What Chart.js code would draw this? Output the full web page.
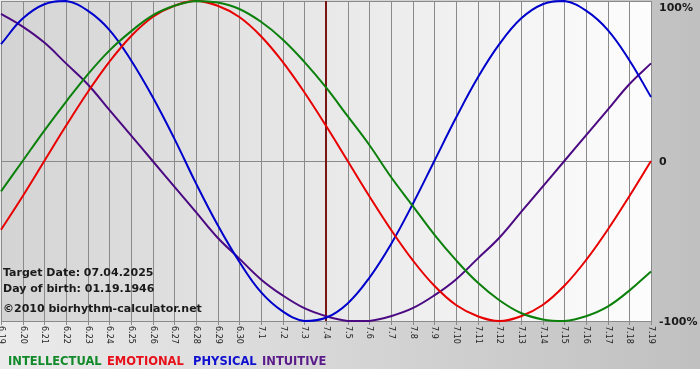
<!DOCTYPE html>
<html><head><meta charset="utf-8">
<script src="https://cdn.jsdelivr.net/npm/chart.js@4.4.1/dist/chart.umd.min.js"></script>
<style>html,body{margin:0;padding:0;background:#fff}canvas{display:block}</style>
</head><body>
<canvas id="c" width="700" height="380"></canvas>
<script>
const days = ['6.19','6.20','6.21','6.22','6.23','6.24','6.25','6.26','6.27','6.28','6.29','6.30',
  '7.1','7.2','7.3','7.4','7.5','7.6','7.7','7.8','7.9','7.10','7.11','7.12','7.13','7.14','7.15','7.16','7.17','7.18','7.19'];
const intellectual = [-0.19,0,0.19,0.37,0.54,0.69,0.81,0.91,0.97,1.00,0.99,0.95,0.87,0.76,0.62,0.46,0.28,0.10,-0.10,-0.28,-0.46,-0.62,-0.76,-0.87,-0.95,-0.99,-1.00,-0.97,-0.91,-0.81,-0.69];
const emotional = [-0.43,-0.22,0,0.22,0.43,0.62,0.78,0.90,0.97,1.00,0.97,0.90,0.78,0.62,0.43,0.22,0,-0.22,-0.43,-0.62,-0.78,-0.90,-0.97,-1.00,-0.97,-0.90,-0.78,-0.62,-0.43,-0.22,0];
const physical = [0.73,0.89,0.98,1.00,0.94,0.82,0.63,0.40,0.14,-0.14,-0.40,-0.63,-0.82,-0.94,-1.00,-0.98,-0.89,-0.73,-0.52,-0.27,0,0.27,0.52,0.73,0.89,0.98,1.00,0.94,0.82,0.63,0.40];
const intuitive = [0.92,0.84,0.74,0.61,0.48,0.32,0.16,0,-0.16,-0.32,-0.48,-0.61,-0.74,-0.84,-0.92,-0.97,-1.00,-1.00,-0.97,-0.92,-0.84,-0.74,-0.61,-0.48,-0.32,-0.16,0,0.16,0.32,0.48,0.61];
const yTickValues = [1, 0, -1];
const yTickLabels = ['100%', '0', '-100%'];
const targetDay = '7.4';
const infoLines = ['Target Date: 07.04.2025', 'Day of birth: 01.19.1946', '\u00A92010 biorhythm-calculator.net'];
const seriesNames = ['INTELLECTUAL', 'EMOTIONAL', 'PHYSICAL', 'INTUITIVE'];
const seriesColors = ['#0b800b', '#e80000', '#0000cc', '#4b0a82'];
const legendColors = ['#138a2a', '#e8101a', '#1010d0', '#5a1a8a'];

const decor = {
  id: 'decor',
  beforeDraw(chart) {
    const {ctx, chartArea: a, width, height} = chart;
    const xs = chart.scales.x, ys = chart.scales.y;
    ctx.save();
    ctx.fillStyle = '#fff';
    ctx.fillRect(0, 0, width, height);
    const g = ctx.createLinearGradient(0, 0, width, 0);
    g.addColorStop(0, '#ebebeb');
    g.addColorStop(1, '#c0c0c0');
    ctx.fillStyle = g;
    ctx.fillRect(0, 0, width, 369);
    const g2 = ctx.createLinearGradient(a.left, 0, a.right, 0);
    g2.addColorStop(0, '#d4d4d4');
    g2.addColorStop(1, '#fdfdfd');
    ctx.fillStyle = g2;
    ctx.fillRect(a.left, a.top, a.right - a.left, a.bottom - a.top);
    ctx.strokeStyle = '#8a8a8a';
    ctx.lineWidth = 1;
    ctx.beginPath();
    days.forEach((d, i) => {
      const x = Math.round(xs.getPixelForValue(i)) + 0.5;
      ctx.moveTo(x, a.top);
      ctx.lineTo(x, a.bottom + 4);
    });
    yTickValues.forEach(v => {
      const y = Math.round(ys.getPixelForValue(v)) + 0.5;
      ctx.moveTo(a.left, y);
      ctx.lineTo(a.right, y);
    });
    ctx.stroke();
    const ti = days.indexOf(targetDay);
    const tx = Math.round(xs.getPixelForValue(ti));
    ctx.strokeStyle = '#7a1515';
    ctx.lineWidth = 2;
    ctx.beginPath();
    ctx.moveTo(tx, a.top);
    ctx.lineTo(tx, a.bottom);
    ctx.stroke();
    ctx.restore();
  },
  afterDraw(chart) {
    const {ctx, chartArea: a} = chart;
    const xs = chart.scales.x, ys = chart.scales.y;
    ctx.save();
    ctx.fillStyle = '#222';
    ctx.font = '8px "DejaVu Sans"';
    ctx.textAlign = 'left';
    ctx.textBaseline = 'middle';
    days.forEach((d, i) => {
      const x = xs.getPixelForValue(i);
      ctx.save();
      ctx.translate(x, a.bottom + 5);
      ctx.rotate(Math.PI / 2);
      ctx.fillText(d, 0, 0);
      ctx.restore();
    });
    ctx.font = 'bold 11px "DejaVu Sans"';
    ctx.fillStyle = '#1a1a1a';
    const offs = [7, 1, 1];
    yTickValues.forEach((v, i) => {
      ctx.fillText(yTickLabels[i], a.right + 8, ys.getPixelForValue(v) + offs[i]);
    });
    ctx.textBaseline = 'alphabetic';
    ctx.fillStyle = '#1a1a1a';
    const infoY = [276, 292, 312];
    infoLines.forEach((t, i) => ctx.fillText(t, a.left + 2, infoY[i]));
    ctx.textBaseline = 'middle';
    ctx.font = 'bold 11.5px "DejaVu Sans"';
    const legendX = [8, 107, 193, 262];
    seriesNames.forEach((n, i) => {
      ctx.fillStyle = legendColors[i];
      ctx.fillText(n, legendX[i], 362);
    });
    ctx.restore();
  }
};

new Chart(document.getElementById('c'), {
  type: 'line',
  data: {
    labels: days,
    datasets: [
      {label: seriesNames[0], data: intellectual, borderColor: seriesColors[0]},
      {label: seriesNames[1], data: emotional, borderColor: seriesColors[1]},
      {label: seriesNames[2], data: physical, borderColor: seriesColors[2]},
      {label: seriesNames[3], data: intuitive, borderColor: seriesColors[3]}
    ]
  },
  options: {
    responsive: false,
    animation: false,
    layout: {padding: {left: 1, right: 49, top: 1, bottom: 59}},
    elements: {
      line: {borderWidth: 2, tension: 0.4, fill: false},
      point: {radius: 0, hoverRadius: 0}
    },
    datasets: {line: {clip: 3}},
    scales: {
      x: {display: false},
      y: {display: false, min: -1, max: 1}
    },
    plugins: {legend: {display: false}, tooltip: {enabled: false}}
  },
  plugins: [decor]
});
</script>
</body></html>
